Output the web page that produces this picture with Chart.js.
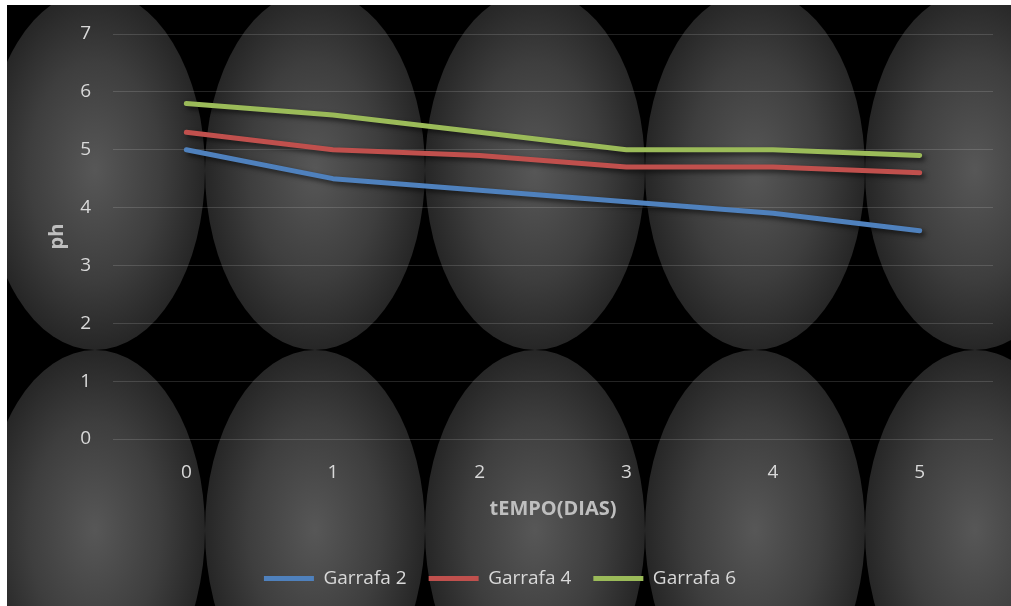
<!DOCTYPE html>
<html>
<head>
<meta charset="utf-8">
<script src="https://cdn.jsdelivr.net/npm/chart.js@4"></script>
<style>
  html, body { margin: 0; padding: 0; background: #fff; }
  #wrap { position: absolute; left: 7px; top: 5px; width: 1004px; height: 601px; }
</style>
</head>
<body>
<div id="wrap"><canvas id="phChart"></canvas></div>
<script>
// data
const dias = ['0', '1', '2', '3', '4', '5'];
const garrafa2 = [5.0, 4.5, 4.3, 4.1, 3.9, 3.6];
const garrafa4 = [5.3, 5.0, 4.9, 4.7, 4.7, 4.6];
const garrafa6 = [5.8, 5.6, 5.3, 5.0, 5.0, 4.9];
const phTicks = [0, 1, 2, 3, 4, 5, 6, 7];

const textColor = '#d9d9d9';
const titleColor = '#bfbfbf';
const font = 'Open Sans';

// tiled oval texture behind the whole chart
const ovalBackground = {
    id: 'ovalBackground',
    beforeDraw(chart) {
        const ctx = chart.ctx;
        const w = chart.width, h = chart.height;
        ctx.save();
        ctx.fillStyle = '#000';
        ctx.fillRect(0, 0, w, h);
        const a = 110, b = 180;
        for (let cy = 165; cy - b < h; cy += 360) {
            for (let cx = 88; cx - a < w; cx += 220) {
                ctx.save();
                ctx.translate(cx, cy);
                ctx.scale(1, b / a);
                const g = ctx.createRadialGradient(0, 0, 0, 0, 0, a);
                g.addColorStop(0, '#575757');
                g.addColorStop(0.6, '#3e3e3e');
                g.addColorStop(1, '#262626');
                ctx.fillStyle = g;
                ctx.beginPath();
                ctx.arc(0, 0, a, 0, Math.PI * 2);
                ctx.fill();
                ctx.restore();
            }
        }
        ctx.restore();
    }
};

// soft drop shadow under the lines
const lineShadow = {
    id: 'lineShadow',
    beforeDatasetsDraw(chart) {
        const ctx = chart.ctx;
        ctx.save();
        ctx.shadowColor = 'rgba(0,0,0,0.6)';
        ctx.shadowBlur = 5;
        ctx.shadowOffsetX = 3;
        ctx.shadowOffsetY = 3;
    },
    afterDatasetsDraw(chart) {
        chart.ctx.restore();
    }
};

function serie(label, data, color) {
    return {
        label: label,
        data: data,
        borderColor: color,
        backgroundColor: color,
        borderWidth: 5,
        borderCapStyle: 'round',
        borderJoinStyle: 'round',
        pointRadius: 0,
        pointHoverRadius: 0,
        tension: 0,
        fill: false
    };
}

const ctx = document.getElementById('phChart').getContext('2d');
new Chart(ctx, {
    type: 'line',
    data: {
        labels: dias,
        datasets: [
            serie('Garrafa 2', garrafa2, '#4f81bd'),
            serie('Garrafa 4', garrafa4, '#c0504d'),
            serie('Garrafa 6', garrafa6, '#9bbb59')
        ]
    },
    options: {
        responsive: true,
        maintainAspectRatio: false,
        animation: false,
        layout: { padding: { top: 0, right: 18, left: 0, bottom: 8 } },
        scales: {
            x: {
                offset: true,
                afterFit(axis) { axis.height = 108; },
                grid: { display: false },
                border: { display: false },
                ticks: { color: textColor, font: { family: font, size: 19 }, padding: 14 },
                title: {
                    display: true,
                    text: 'tEMPO(DIAS)',
                    color: titleColor,
                    font: { family: font, size: 20, weight: 'bold' },
                    padding: { top: 0, bottom: 26 }
                }
            },
            y: {
                min: 0,
                max: 7,
                afterBuildTicks(axis) {
                    axis.ticks = phTicks.map(v => ({ value: v }));
                },
                afterFit(axis) {
                    axis.width = 106;
                    axis.paddingTop = 29;
                },
                grid: { color: 'rgba(255,255,255,0.14)', lineWidth: 1, drawTicks: false },
                border: { display: false },
                ticks: { color: textColor, font: { family: font, size: 19 }, padding: 22 },
                title: {
                    display: true,
                    text: 'ph',
                    color: titleColor,
                    font: { family: font, size: 20, weight: 'bold' },
                    padding: { top: 38, bottom: 0 }
                }
            }
        },
        plugins: {
            legend: {
                position: 'bottom',
                labels: {
                    color: textColor,
                    font: { family: font, size: 19 },
                    usePointStyle: true,
                    pointStyle: 'line',
                    pointStyleWidth: 50,
                    boxWidth: 50,
                    boxHeight: 19,
                    padding: 22
                }
            },
            tooltip: { enabled: false }
        }
    },
    plugins: [ovalBackground, lineShadow]
});
</script>
</body>
</html>
